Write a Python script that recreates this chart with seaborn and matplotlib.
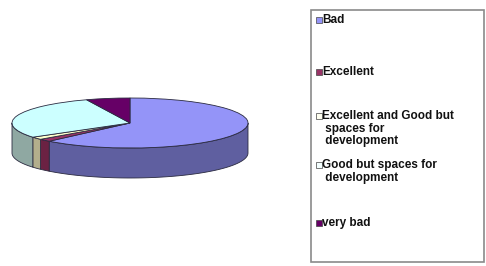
import numpy as np
import matplotlib
matplotlib.use("Agg")
import matplotlib.pyplot as plt
from matplotlib.patches import Polygon, Rectangle
import seaborn as sns

# survey answers (percent of responses)
categories = ["Bad", "Excellent", "Excellent and Good but spaces for development",
              "Good but spaces for development", "very bad"]
legend_labels = ["Bad", "Excellent", "Excellent and Good but\n spaces for\n development",
                 "Good but spaces for\n development", "very bad"]
shares = [62.0, 1.7, 1.7, 28.6, 6.0]

top_colors = ["#9494F8", "#993366", "#FFFFCC", "#CCFFFF", "#660066"]
side_colors = ["#5f5fa0", "#6b2243", "#b3ae8c", "#8fa8a2", "#440044"]
swatch_colors = ["#9494F8", "#993366", "#FFFFF0", "#F4FFFF", "#660066"]

sns.set_style("white")
plt.rcParams['font.family'] = ['Liberation Sans', 'DejaVu Sans']
palette = sns.color_palette(top_colors)

fig = plt.figure(figsize=(4.86, 2.66), dpi=100)
fig.patch.set_facecolor("white")

# pie axes: x unit = 118 px, y unit = 25 px -> flattened (tilted) disc
ax = fig.add_axes([0, (266 - 200) / 266, 260 / 486, 140 / 266])
wedges, _ = ax.pie(shares, colors=palette, startangle=90, counterclock=False,
                   radius=1, center=(0, 0),
                   wedgeprops=dict(edgecolor="#2a2a40", linewidth=0.6))
ax.set_aspect("auto")
ax.set_xlim(-130 / 118, 130 / 118)
ax.set_ylim(-3.08, 2.52)
ax.axis("off")

# visible front side of the disc
h = 30 / 25
for w, c in zip(wedges, side_colors):
    t1 = (w.theta1 + 180) % 360 - 180
    t2 = t1 + (w.theta2 - w.theta1)
    for lo, hi in [(max(t1, -180), min(t2, 0)), (max(t1, 180), min(t2, 360))]:
        if hi <= lo:
            continue
        t = np.radians(np.linspace(lo, hi, 80))
        xs, ys = np.cos(t), np.sin(t)
        pts = np.concatenate([np.column_stack([xs, ys]),
                              np.column_stack([xs[::-1], ys[::-1] - h])])
        ax.add_patch(Polygon(pts, closed=True, facecolor=c, edgecolor="#2a2a40",
                             linewidth=0.6, zorder=0.5))

# legend drawn in pixel coordinates
lg = fig.add_axes([0, 0, 1, 1])
lg.set_xlim(0, 486)
lg.set_ylim(266, 0)
lg.axis("off")
lg.add_patch(Rectangle((311, 10), 173, 252, facecolor="white",
                       edgecolor="#8a8a8a", linewidth=1.2))
entry_y = [20, 72, 116, 165, 223]
for lab, col, yc in zip(legend_labels, swatch_colors, entry_y):
    lg.add_patch(Rectangle((315.5, yc - 3), 6, 6, facecolor=col,
                           edgecolor="#444444", linewidth=0.5))
    lg.text(322, yc - 6, lab, fontsize=8.5, fontweight="bold", color="#111111",
            va="top", ha="left", linespacing=1.06)

fig.savefig("out.png", dpi=100)
